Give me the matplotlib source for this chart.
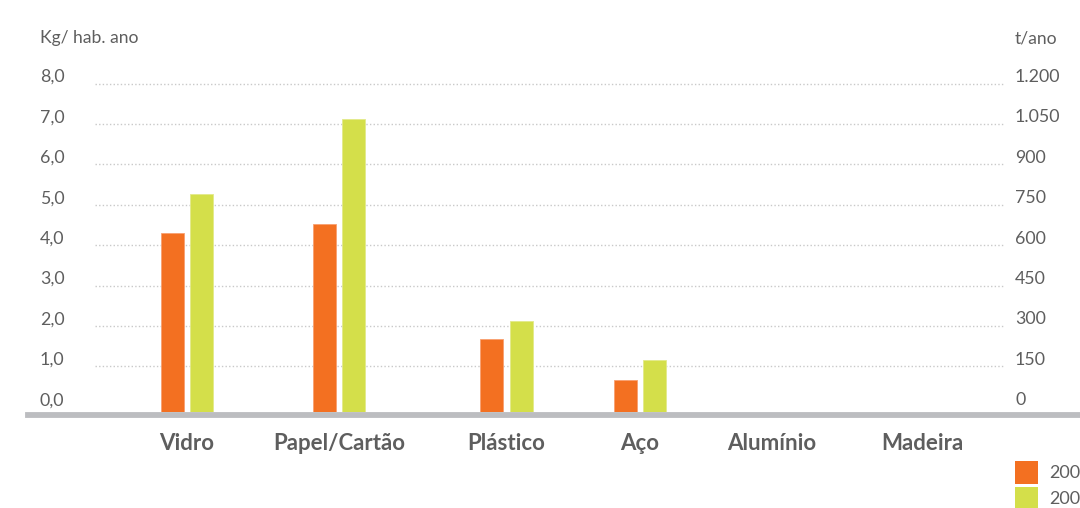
import matplotlib.pyplot as plt
import matplotlib.transforms as mtransforms
from matplotlib.lines import Line2D
from matplotlib.patches import Rectangle

plt.rcParams['font.family'] = ['Lato', 'DejaVu Sans']

# data
categories = ['Vidro', 'Papel/Cartão', 'Plástico', 'Aço', 'Alumínio', 'Madeira']
serie_a = [4.3, 4.52, 1.68, 0.66, 0, 0]   # laranja
serie_b = [5.26, 7.12, 2.12, 1.16, 0, 0]  # verde
years = ['2008', '2009']
kg_ticks = [0, 1, 2, 3, 4, 5, 6, 7, 8]
t_ticks = [0, 150, 300, 450, 600, 750, 900, 1050, 1200]

# layout (category centres are not evenly spaced in the original)
xpos = [0, 1.013, 2.13, 3.02, 3.9, 4.9]
orange = '#F37021'
green = '#D4DF4A'
txt = '#5e5e5e'

fig = plt.figure(figsize=(10.8, 5.08), dpi=100)
W, H = 1080, 508
ax = fig.add_axes([95 / W, 96 / H, 908 / W, (412 - 83.5) / H])
ymin = -0.13
ax.set_ylim(ymin, 8.0)
ax.set_xlim(-0.613, 5.44)
ax.axis('off')

# grid lines
for v in kg_ticks[1:]:
    ax.axhline(v, color='#c9c9c9', lw=1, ls=(0, (1, 1.6)), clip_on=False, zorder=0)

w = 0.155
off = 0.098
for i, x in enumerate(xpos):
    if serie_a[i] > 0:
        ax.bar(x - off, serie_a[i] - ymin, bottom=ymin, width=w, color=orange,
               edgecolor='#f8a070', lw=0.6, zorder=2)
    if serie_b[i] > 0:
        ax.bar(x + off, serie_b[i] - ymin, bottom=ymin, width=w, color=green,
               edgecolor='#e2ea8a', lw=0.6, zorder=2)
    ax.text(x, -0.92, categories[i], ha='center', va='center', fontsize=16,
            fontweight='bold', color=txt)

# left tick labels
up = mtransforms.ScaledTranslation(0, 6.5 / 100, fig.dpi_scale_trans)
trans_l = mtransforms.blended_transform_factory(fig.transFigure, ax.transData) + up
for v in kg_ticks:
    ax.text(40 / W, v, f'{v:.1f}'.replace('.', ','), transform=trans_l,
            ha='left', va='center', fontsize=12.8, color=txt)

# right axis in t/ano
ax2 = ax.twinx()
ax2.set_ylim(ymin * 150, 1200)
ax2.axis('off')
trans_r = mtransforms.blended_transform_factory(fig.transFigure, ax2.transData) + up
for v in t_ticks:
    ax2.text(1015 / W, v, f'{v:,}'.replace(',', '.'), transform=trans_r,
             ha='left', va='center', fontsize=12.8, color=txt)

fig.text(40 / W, 1 - 38 / H, 'Kg/ hab. ano', ha='left', va='center', fontsize=12.6, color=txt)
fig.text(1015 / W, 1 - 38 / H, 't/ano', ha='left', va='center', fontsize=12.6, color=txt)

# baseline
fig.add_artist(Line2D([28 / W, 1], [1 - 415 / H, 1 - 415 / H], color='#bcbdc0', lw=4.2))

# legend
for j, (c, y) in enumerate([(orange, 461), (green, 487)]):
    fig.add_artist(Rectangle((1015 / W, 1 - (y + 23) / H), 23 / W, 23 / H,
                             facecolor=c, edgecolor='none', transform=fig.transFigure))
    fig.text(1049 / W, 1 - (y + 11.5) / H, years[j], ha='left', va='center',
             fontsize=13, color=txt)

fig.savefig('out.png', dpi=100)
